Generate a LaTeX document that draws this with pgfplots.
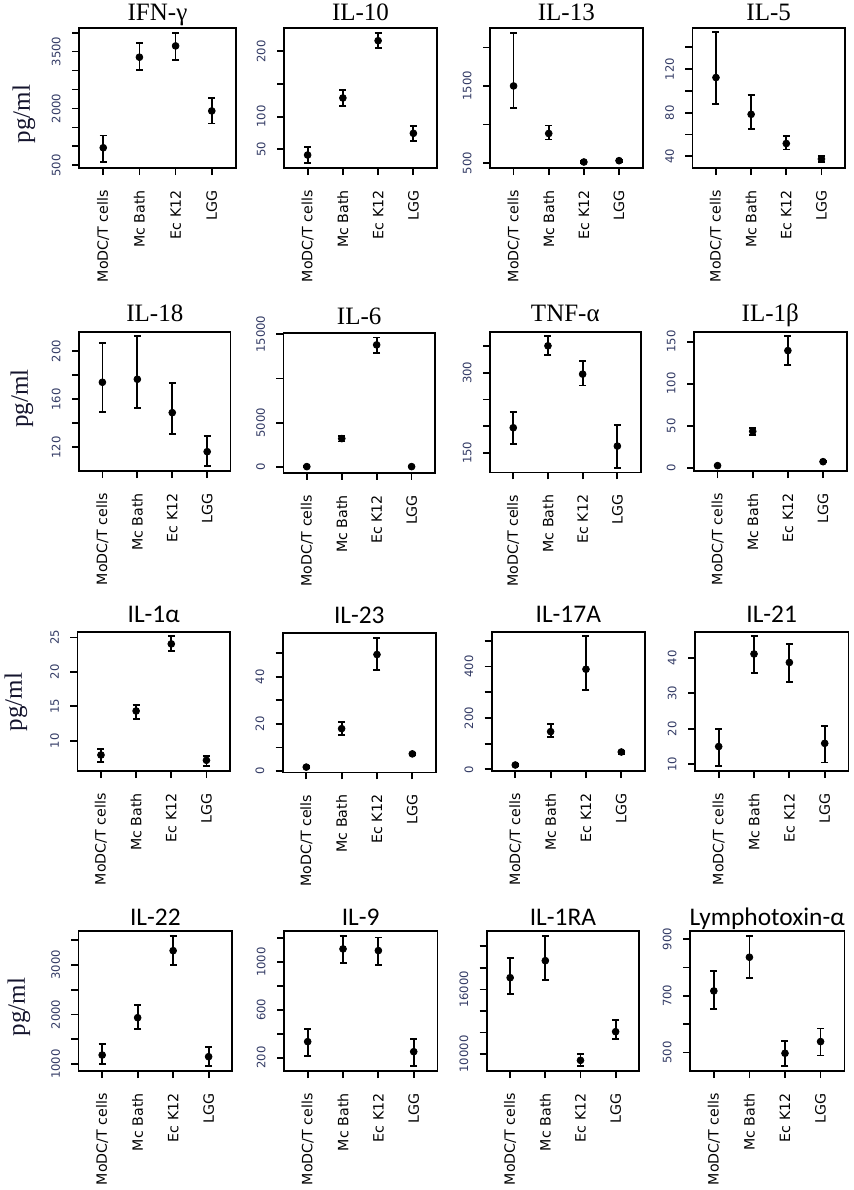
\documentclass[border=0pt]{standalone}
\usepackage{fontspec}
\setmainfont{Liberation Serif}
\newfontfamily\calfont{Carlito}
\newfontfamily\tickfont{DejaVu Sans}
\usepackage{pgfplots}
\pgfplotsset{compat=1.18}

\definecolor{ticklab}{RGB}{50,58,100}
\definecolor{ylab}{RGB}{20,20,45}

\pgfplotsset{
  panel/.style={
    scale only axis, anchor=south west, clip=false,
    axis line style={line width=0.9pt},
    tick align=outside, tick pos=left,
    major tick length=3.5pt,
    tick style={black, line width=0.9pt},
    xmin=0.33, xmax=4.67,
    xtick={1,2,3,4},
    xticklabels={MoDC/T cells, Mc Bath, Ec K12, LGG},
    xticklabel style={font=\tickfont\fontsize{7.1}{8}\selectfont, rotate=90, anchor=east, inner sep=0pt},
    xticklabel shift=7.5pt,
    yticklabel style={font=\tickfont\fontsize{5.8}{7}\selectfont, text=ticklab, rotate=90, anchor=south, inner sep=0pt},
    yticklabel shift=5.5pt,
    every axis title shift=0pt,
    title style={font=\fontsize{12.5}{14}\selectfont, anchor=base, at={(0.5,1)}, yshift=4.5pt, inner sep=0pt},
  },
  sanstitle/.style={title style={font=\calfont\fontsize{12.7}{14}\selectfont}},
  dots/.style={black, only marks, mark=*, mark size=1.7pt,
    error bars/.cd, y dir=both, y explicit,
    error bar style={line width=0.9pt},
    error mark options={rotate=90, line width=0.9pt, mark size=1.75pt, black}},
}

\newcommand{\pgml}[1]{\node[rotate=90, font=\fontsize{12.5}{14}\selectfont, text=ylab] at #1 {pg/ml};}

\begin{document}
\begin{tikzpicture}
\path[use as bounding box] (0,0) rectangle (426.5pt,-595pt);

% ---------- row 1 ----------
\pgml{(12pt,-57pt)}
\begin{axis}[panel, at={(39.5pt,-84pt)}, width=78.5pt, height=70pt,
  title={IFN-γ}, title style={yshift=-0.5pt}, ymin=430, ymax=4122,
  ytick={500,1000,...,4000}, yticklabels={500,{},{},2000,{},{},3500,{}}]
\addplot[dots] table[x=x, y=y, y error plus=ep, y error minus=em] {
x y ep em
1 964 324 385
2 3352 377 341
3 3650 341 376
4 1935 333 332
};
\end{axis}

\begin{axis}[panel, at={(142pt,-84pt)}, width=76.5pt, height=70pt,
  title={IL-10}, title style={yshift=-0.5pt}, ymin=21.4, ymax=235.7,
  ytick={50,100,150,200}, yticklabels={50,100,{},200}]
\addplot[dots] table[x=x, y=y, y error plus=ep, y error minus=em] {
x y ep em
1 41.3 11.7 12.3
2 128.6 11.7 12.3
3 216.3 11.3 11.7
4 74.5 11.7 12.3
};
\end{axis}

\begin{axis}[panel, at={(245pt,-84pt)}, width=76.3pt, height=70pt,
  title={IL-13}, title style={yshift=-0.5pt}, ymin=435, ymax=2252,
  ytick={500,1000,1500,2000}, yticklabels={500,{},1500,{}}]
\addplot[dots] table[x=x, y=y, y error plus=ep, y error minus=em] {
x y ep em
1 1500 691 291
2 883 104 79
3 513 17 18
4 530 15 15
};
\end{axis}

\begin{axis}[panel, at={(346.2pt,-84pt)}, width=76.3pt, height=70pt,
  title={IL-5}, title style={yshift=-0.5pt}, ymin=29.2, ymax=157.8,
  ytick={40,60,...,140}, yticklabels={40,{},80,{},120,{}}]
\addplot[dots] table[x=x, y=y, y error plus=ep, y error minus=em] {
x y ep em
1 112.3 41.5 24.0
2 78.5 17.8 13.3
3 51.7 7.1 5.5
4 37.5 2.5 2.7
};
\end{axis}

% ---------- row 2 ----------
\pgml{(11pt,-199.3pt)}
\begin{axis}[panel, at={(39.5pt,-235.5pt)}, width=75.8pt, height=69.7pt,
  title={IL-18}, title style={yshift=0.5pt}, ymin=100.3, ymax=216.4,
  ytick={120,140,...,200}, yticklabels={120,{},160,{},200}]
\addplot[dots] table[x=x, y=y, y error plus=ep, y error minus=em] {
x y ep em
1 174.2 33.0 24.5
2 176.7 36.1 24.2
3 148.9 24.4 17.8
4 116.4 13.3 11.7
};
\end{axis}

\begin{axis}[panel, at={(141.7pt,-236.3pt)}, width=75.8pt, height=69.7pt,
  title={IL-6}, title style={yshift=-0.3pt}, ymin=-602, ymax=15113,
  scaled y ticks=false,
  ytick={0,5000,10000,15000}, yticklabels={0,5000,{},15000}]
\addplot[dots] table[x=x, y=y, y error plus=ep, y error minus=em] {
x y ep em
1 75 60 60
2 3233 301 338
3 13797 827 940
4 75 60 60
};
\end{axis}

\begin{axis}[panel, at={(245pt,-236.2pt)}, width=75.3pt, height=70.3pt,
  title={TNF-α}, title style={yshift=0.5pt}, ymin=113.1, ymax=376.9,
  ytick={150,200,...,350}, yticklabels={150,{},{},300,{}}]
\addplot[dots] table[x=x, y=y, y error plus=ep, y error minus=em] {
x y ep em
1 196.9 30.0 30.6
2 350.6 18.2 17.5
3 297.5 24.4 21.2
4 162.5 39.4 40.6
};
\end{axis}

\begin{axis}[panel, at={(347pt,-235.5pt)}, width=76.3pt, height=69.7pt,
  title={IL-1β}, title style={yshift=0.5pt}, ymin=-4, ymax=161.9,
  ytick={0,50,100,150}, yticklabels={0,50,100,150}]
\addplot[dots] table[x=x, y=y, y error plus=ep, y error minus=em] {
x y ep em
1 2.4 1 1
2 43.3 4.3 4.8
3 139.3 17.4 17.1
4 7.1 1 1
};
\end{axis}

% ---------- row 3 ----------
\pgml{(8pt,-351pt)}
\begin{axis}[panel, sanstitle, at={(38.7pt,-385.5pt)}, width=76.3pt, height=69.7pt,
  title={IL-1α}, title style={yshift=0.2pt}, ymin=5.58, ymax=25.87,
  ytick={10,15,20,25}, yticklabels={10,15,20,25}]
\addplot[dots] table[x=x, y=y, y error plus=ep, y error minus=em] {
x y ep em
1 7.91 0.88 0.97
2 14.32 0.87 1.21
3 24.08 1.16 1.02
4 7.14 0.68 0.88
};
\end{axis}

\begin{axis}[panel, sanstitle, at={(141.3pt,-386.2pt)}, width=76.7pt, height=69.8pt,
  title={IL-23}, title style={yshift=0.2pt}, ymin=-0.56, ymax=58.6,
  ytick={0,10,...,50}, yticklabels={0,{},20,{},40,{}}]
\addplot[dots] table[x=x, y=y, y error plus=ep, y error minus=em] {
x y ep em
1 1.69 0.3 0.3
2 18.0 2.8 2.8
3 49.4 6.9 6.7
4 7.3 0.5 0.5
};
\end{axis}

\begin{axis}[panel, sanstitle, at={(245.8pt,-385.5pt)}, width=76.7pt, height=69.7pt,
  title={IL-17A}, title style={yshift=0.2pt}, ymin=-6.5, ymax=536,
  ytick={0,100,...,500}, yticklabels={0,{},200,{},400,{}}]
\addplot[dots] table[x=x, y=y, y error plus=ep, y error minus=em] {
x y ep em
1 16.9 4 4
2 146.8 29.8 22.1
3 389.6 129.9 80.5
4 67.5 5.2 7.8
};
\end{axis}

\begin{axis}[panel, sanstitle, at={(347.5pt,-385.5pt)}, width=76.7pt, height=69.7pt,
  title={IL-21}, title style={yshift=0.2pt}, ymin=8.1, ymax=47.4,
  ytick={10,20,30,40}, yticklabels={10,20,30,40}]
\addplot[dots] table[x=x, y=y, y error plus=ep, y error minus=em] {
x y ep em
1 15.0 5.0 5.4
2 41.1 5.1 5.4
3 38.7 5.2 5.4
4 15.9 5.0 5.4
};
\end{axis}

% ---------- row 4 ----------
\pgml{(9.5pt,-503.5pt)}
\begin{axis}[panel, sanstitle, at={(39.2pt,-535.5pt)}, width=77pt, height=70pt,
  title={IL-22}, title style={yshift=-1.5pt}, ymin=859, ymax=3681,
  ytick={1000,1500,...,3500}, yticklabels={1000,{},2000,{},3000,{}}]
\addplot[dots] table[x=x, y=y, y error plus=ep, y error minus=em] {
x y ep em
1 1181 222 188
2 1934 249 228
3 3285 296 296
4 1148 188 188
};
\end{axis}

\begin{axis}[panel, sanstitle, at={(142pt,-535.5pt)}, width=76.7pt, height=70pt,
  title={IL-9}, title style={yshift=-1.5pt}, ymin=88, ymax=1261,
  ytick={200,400,...,1200}, yticklabels={200,{},600,{},1000,{}}]
\addplot[dots] table[x=x, y=y, y error plus=ep, y error minus=em] {
x y ep em
1 334 106 117
2 1111 109 120
3 1097 109 120
4 250 106 117
};
\end{axis}

\begin{axis}[panel, sanstitle, at={(243.3pt,-535.5pt)}, width=76.3pt, height=70pt,
  title={IL-1RA}, title style={yshift=-1.5pt}, ymin=8421, ymax=21424,
  scaled y ticks=false,
  ytick={10000,12000,...,20000}, yticklabels={10000,{},{},16000,{},{}}]
\addplot[dots] table[x=x, y=y, y error plus=ep, y error minus=em] {
x y ep em
1 17090 1826 1486
2 18669 2291 1796
3 9412 588 527
4 12074 1053 712
};
\end{axis}

\begin{axis}[panel, sanstitle, at={(345pt,-535.5pt)}, width=77.2pt, height=70pt,
  title={Lymphotoxin-α}, title style={yshift=-1.5pt}, ymin=435, ymax=929,
  ytick={500,600,...,900}, yticklabels={500,{},700,{},900}]
\addplot[dots] table[x=x, y=y, y error plus=ep, y error minus=em] {
x y ep em
1 717.6 70.4 62.6
2 836.5 75.3 74.1
3 497.6 44.4 44.6
4 538.8 45.9 49.4
};
\end{axis}
\end{tikzpicture}
\end{document}
